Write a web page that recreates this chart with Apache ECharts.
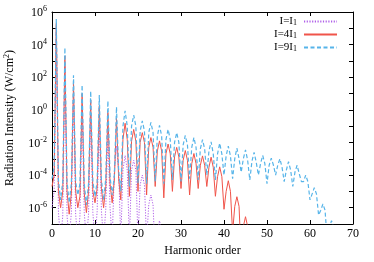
<!DOCTYPE html>
<html>
<head>
<meta charset="utf-8">
<script src="https://cdn.jsdelivr.net/npm/echarts@6/dist/echarts.min.js"></script>
<style>
html,body{margin:0;padding:0;background:#fff;}
#c{width:374px;height:262px;}
</style>
</head>
<body>
<div id="c"></div>
<script>
// Harmonic spectra, sampled every 0.5 harmonic order starting at order 0
const STEP = 0.5;
const seriesNames = ['I=I1', 'I=4I1', 'I=9I1'];
const xTicks = [0, 10, 20, 30, 40, 50, 60, 70];

// I = I1 (orders 0 .. 26)
const intensityI1 = [
  1e-6, 1e-5, 1e5, 5e-7, 1e-8, 3e-7, 500, 3e-7, 1e-8, 5e-7,
  10, 4e-7, 1e-8, 3e-7, 2, 5e-7, 1e-8, 4e-7, 0.5, 5e-7,
  1e-8, 6e-7, 0.16, 6e-7, 1e-8, 8e-7, 0.04, 1e-6, 1e-8, 2e-4,
  6e-3, 2e-4, 1e-8, 2e-4, 1.6e-3, 2e-4, 1e-8, 2e-4, 8e-4, 2e-4,
  1e-8, 2.5e-5, 1e-4, 2.5e-5, 1e-8, 1.5e-6, 6e-6, 1.5e-6, 1e-9, 4e-8,
  1.6e-7, 4e-8, 1e-9
];

// I = 4 I1 (orders 0 .. 46)
const intensity4I1 = [
  2e-5, 1e-4, 2e5, 1e-5, 1e-6, 1e-5, 2e3, 1e-5, 4e-7, 8e-6,
  50, 1e-5, 1e-6, 5e-6, 10, 8e-6, 5e-7, 1e-5, 4, 1e-5,
  2e-6, 1.5e-5, 1.8, 1.5e-5, 1e-6, 2e-5, 0.7, 3e-5, 2e-6, 5e-5,
  0.3, 6e-5, 3e-6, 0.015, 0.15, 0.015, 5e-6, 0.012, 0.063, 0.012,
  1e-5, 0.01, 0.04, 0.01, 6e-6, 5e-3, 0.02, 5e-3, 2e-5, 3e-3,
  0.0125, 3e-3, 4e-6, 2e-3, 8e-3, 2e-3, 1e-5, 1.3e-3, 5e-3, 1.3e-3,
  1.5e-5, 8e-4, 3.2e-3, 8e-4, 6e-6, 5e-4, 2.1e-3, 5e-4, 1.5e-5, 4e-4,
  1.5e-3, 4e-4, 2e-5, 3e-4, 1.25e-3, 3e-4, 5e-6, 8e-5, 3.2e-4, 8e-5,
  8e-7, 1e-5, 4.5e-5, 1e-5, 3e-8, 1.2e-6, 4.7e-6, 1.2e-6, 1e-9, 7e-8,
  2.8e-7, 7e-8, 1e-9
];

// I = 9 I1 (orders 0 .. 66)
const intensity9I1 = [
  6e-5, 3e-4, 3.7e5, 5e-5, 3e-6, 4e-5, 6.5e3, 4e-5, 2e-6, 3e-5,
  130, 4e-5, 6e-6, 3e-5, 33, 3e-5, 1.5e-6, 3e-5, 14, 4e-5,
  5e-6, 4e-5, 8, 5e-5, 3e-6, 6e-5, 3.5, 8e-5, 6e-6, 1e-4,
  1.5, 2e-4, 1e-5, 0.1, 0.87, 0.1, 2e-5, 0.1, 0.48, 0.1,
  3e-5, 0.05, 0.21, 0.05, 3e-5, 0.04, 0.17, 0.04, 4e-5, 0.025,
  0.11, 0.025, 3e-5, 0.015, 0.063, 0.015, 5e-5, 0.01, 0.04, 0.01,
  4e-5, 7e-3, 0.027, 7e-3, 6e-5, 5e-3, 0.02, 5e-3, 5e-5, 4e-3,
  0.015, 4e-3, 1e-4, 3e-3, 0.011, 2e-3, 5e-5, 2e-3, 9e-3, 2e-3,
  1e-4, 1.5e-3, 6e-3, 1.5e-3, 6e-5, 1e-3, 4.5e-3, 1e-3, 1.5e-4, 1e-3,
  3.5e-3, 8e-4, 5e-5, 7e-4, 2.5e-3, 6e-4, 1e-4, 5e-4, 1.6e-3, 5e-4,
  3e-5, 4e-4, 1.1e-3, 4e-4, 1e-4, 4e-4, 1e-3, 3e-4, 4e-5, 2e-4,
  6.6e-4, 2e-4, 2e-5, 1.5e-4, 4e-4, 1.2e-4, 4e-5, 4e-5, 1e-4, 4e-5,
  3e-6, 7e-6, 1.7e-5, 7e-6, 3.5e-7, 7e-7, 1.7e-6, 7e-7, 1e-8, 6e-8,
  1.6e-7, 6e-8, 1e-8
];

function toPairs(vals) {
  return vals.map((v, i) => [i * STEP, v]);
}

const FONT = 'Liberation Serif';
const supRich = {
  b: { fontFamily: FONT, fontSize: 12, color: '#000', verticalAlign: 'bottom', lineHeight: 14 },
  s: { fontFamily: FONT, fontSize: 8, color: '#000', verticalAlign: 'top', lineHeight: 14, padding: [0, 0, 5, 0] }
};
const subRich = {
  b: { fontFamily: FONT, fontSize: 11, color: '#000', verticalAlign: 'top', lineHeight: 11 },
  u: { fontFamily: FONT, fontSize: 8, color: '#000', verticalAlign: 'bottom', lineHeight: 11, padding: [5, 0, 0, 0] }
};

function expLabel(v) {
  const e = Math.round(Math.log10(v));
  if (e % 2 !== 0) return '';
  return '{b|10}{s|' + e + '}';
}

const chart = echarts.init(document.getElementById('c'), null, { renderer: 'canvas' });
const frame = { show: true, onZero: false, lineStyle: { color: '#000', width: 1 } };
const tick = { show: true, inside: true, length: 4, lineStyle: { color: '#000' } };

chart.setOption({
  animation: false,
  backgroundColor: '#fff',
  textStyle: { fontFamily: FONT },
  grid: { left: 52, right: 21, top: 12, bottom: 38, containLabel: false, outerBoundsMode: 'none' },
  legend: {
    orient: 'vertical',
    right: 36,
    top: 14,
    padding: 0,
    align: 'right',
    itemWidth: 33,
    itemHeight: 8,
    itemGap: 0,
    data: seriesNames,
    itemStyle: { opacity: 0 },
    formatter: function (n) {
      const m = n.match(/^I=(\d*)I1$/);
      return '{b|I=' + m[1] + 'I}{u|1}';
    },
    textStyle: { rich: subRich, padding: [0, 2, 0, 0] }
  },
  xAxis: [
    {
      type: 'value', min: xTicks[0], max: xTicks[xTicks.length - 1], interval: 10,
      name: 'Harmonic order', nameLocation: 'middle', nameGap: 20,
      nameTextStyle: { fontFamily: FONT, fontSize: 12, color: '#000' },
      axisLine: frame, axisTick: tick, splitLine: { show: false },
      axisLabel: { fontFamily: FONT, fontSize: 12, color: '#000', margin: 4 }
    },
    {
      type: 'value', position: 'top', min: 0, max: 70, interval: 10,
      axisLine: frame, axisTick: tick, splitLine: { show: false },
      axisLabel: { show: false }
    }
  ],
  yAxis: [
    {
      type: 'log', logBase: 10, min: 1e-7, max: 1e6, interval: 1,
      name: 'Radiation Intensity (W/cm{s|2})', nameLocation: 'middle', nameGap: 36,
      nameTextStyle: {
        fontFamily: FONT, fontSize: 12, color: '#000',
        rich: {
          s: { fontFamily: FONT, fontSize: 8, color: '#000', verticalAlign: 'top', padding: [0, 0, 5, 0] }
        }
      },
      axisLine: frame, axisTick: tick, splitLine: { show: false },
      axisLabel: { formatter: expLabel, rich: supRich, margin: 5 }
    },
    {
      type: 'log', logBase: 10, position: 'right', min: 1e-7, max: 1e6, interval: 1,
      axisLine: frame, axisTick: tick, splitLine: { show: false },
      axisLabel: { show: false }
    }
  ],
  series: [
    {
      name: seriesNames[0], type: 'line', data: toPairs(intensityI1), showSymbol: false, symbol: 'none',
      clip: true, z: 2,
      lineStyle: { color: '#b060e8', width: 1, type: [1.2, 1.5] }, itemStyle: { color: '#b060e8' }
    },
    {
      name: seriesNames[1], type: 'line', data: toPairs(intensity4I1), showSymbol: false, symbol: 'none',
      clip: true, z: 3,
      lineStyle: { color: '#f0544a', width: 1 }, itemStyle: { color: '#f0544a' }
    },
    {
      name: seriesNames[2], type: 'line', data: toPairs(intensity9I1), showSymbol: false, symbol: 'none',
      clip: true, z: 4,
      lineStyle: { color: '#56b4e9', width: 1.2, type: [4, 2.5] }, itemStyle: { color: '#56b4e9' }
    }
  ]
});
</script>
</body>
</html>
